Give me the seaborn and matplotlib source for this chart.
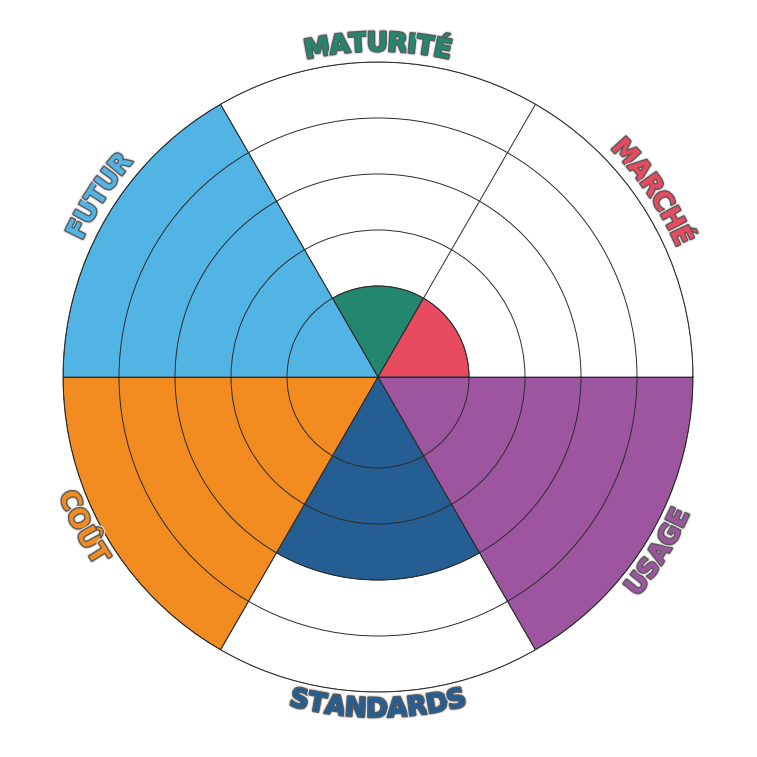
import numpy as np
import matplotlib
matplotlib.use("Agg")
import matplotlib.pyplot as plt
import matplotlib.patheffects as pe
from matplotlib.font_manager import FontProperties
import seaborn as sns

categories = ["MATURITÉ", "MARCHÉ", "USAGE", "STANDARDS", "COÛT", "FUTUR"]
values = [1, 1, 5, 3, 5, 5]
angles_deg = [90, 30, -30, -90, 210, 150]
colors = ["#23876F", "#E84A5F", "#9E55A0", "#255E93", "#F28B20", "#52B3E5"]
ring_levels = [1, 2, 3, 4, 5]

sns.set_theme(style="white")
plt.rcParams["font.family"] = ["DejaVu Sans"]
palette = sns.color_palette(colors)

DPI = 100
fig = plt.figure(figsize=(7.57, 7.57), dpi=DPI)
ax = fig.add_axes([63 / 757, 65 / 757, 630 / 757, 630 / 757], projection="polar")

offset = 0.625  # radial axis starts below zero
rmin, rmax = -offset, 5
ax.set_ylim(rmin, rmax)

theta = np.deg2rad(angles_deg)
width = np.deg2rad(60)
ax.bar(theta, [v - rmin for v in values], width=width, bottom=rmin,
       color=palette, edgecolor="#3a3a3a", linewidth=0.6, zorder=1)

ax.set_yticks(ring_levels)
ax.set_yticklabels([])
ax.set_xticks(np.deg2rad([0, 60, 120, 180, 240, 300]))
ax.set_xticklabels([])
ax.grid(True, color="#2a2a2a", linewidth=0.7)
ax.set_axisbelow(False)
for gl in ax.yaxis.get_gridlines() + ax.xaxis.get_gridlines():
    gl.set_zorder(3)
ax.spines["polar"].set_color("#2a2a2a")
ax.spines["polar"].set_linewidth(0.7)
ax.set_facecolor("white")

# curved labels
fig.canvas.draw()
renderer = fig.canvas.get_renderer()
px_per_unit = 315 / (rmax - rmin)
fp = FontProperties(family="DejaVu Sans", weight="bold", size=19)
label_shift = [0, 4, -2, 0, -3, -3]


def curved_text(label, center_deg, r_px, color):
    top = 0 < (center_deg % 360) < 180
    ws = []
    for ch in label:
        w, h, d = renderer.get_text_width_height_descent(ch, fp, ismath=False)
        ws.append(w * 0.97)
    total = sum(ws)
    span = total / r_px
    c = np.deg2rad(center_deg)
    cum = 0
    r_data = r_px / px_per_unit + rmin
    for ch, w in zip(label, ws):
        if top:
            a = c + span / 2 - (cum + w / 2) / r_px
            rot = np.rad2deg(a) - 90
        else:
            a = c - span / 2 + (cum + w / 2) / r_px
            rot = np.rad2deg(a) + 90
        cum += w
        ax.text(a, r_data, ch, fontproperties=fp, color=color,
                ha="center", va="center", rotation=rot,
                rotation_mode="anchor", clip_on=False, zorder=5,
                path_effects=[pe.withStroke(linewidth=3.6, foreground="#e4e4e4"),
                              pe.withStroke(linewidth=2.0, foreground="#5a5a5a")])


for lab, ang, sh, col in zip(categories, angles_deg, label_shift, colors):
    curved_text(lab, ang + sh, 333, col)

fig.savefig("out.png", dpi=DPI, facecolor="white")
